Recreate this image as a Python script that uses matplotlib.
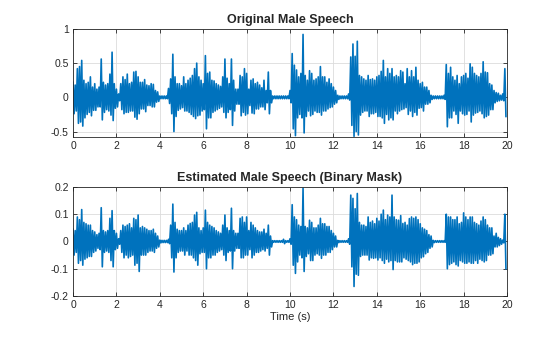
import numpy as np
import matplotlib
matplotlib.use('Agg')
import matplotlib.pyplot as plt

# ###########################################################################
# Envelope of the waveforms, every 0.1 s (t = 0 ... 19.9)
dt = 0.1

# Original male speech: upper / lower peaks
orig_up = [
    0.22, 0.18, 0.42, 0.45, 0.54, 0.25, 0.20, 0.22, 0.30, 0.15,
    0.20, 0.12, 0.15, 0.56, 0.22, 0.18, 0.20, 0.34, 0.66, 0.20,
    0.12, 0.05, 0.20, 0.30, 0.26, 0.34, 0.20, 0.22, 0.37, 0.38,
    0.30, 0.22, 0.22, 0.26, 0.18, 0.17, 0.20, 0.19, 0.10, 0.08,
    0.02, 0.02, 0.02, 0.02, 0.13, 0.27, 0.63, 0.30, 0.20, 0.20,
    0.17, 0.30, 0.20, 0.25, 0.28, 0.32, 0.42, 0.50, 0.30, 0.25,
    0.20, 0.61, 0.35, 0.37, 0.25, 0.24, 0.20, 0.18, 0.16, 0.30,
    0.56, 0.28, 0.20, 0.56, 0.25, 0.12, 0.12, 0.32, 0.30, 0.42,
    0.35, 0.12, 0.25, 0.27, 0.20, 0.22, 0.18, 0.14, 0.25, 0.10,
    0.37, 0.10, 0.02, 0.02, 0.02, 0.02, 0.02, 0.02, 0.02, 0.02,
    0.10, 0.64, 0.47, 0.40, 0.30, 0.35, 0.92, 0.32, 0.25, 0.39,
    0.35, 0.25, 0.27, 0.30, 0.45, 0.30, 0.30, 0.22, 0.27, 0.20,
    0.15, 0.10, 0.03, 0.02, 0.02, 0.02, 0.02, 0.05, 0.59, 0.78,
    0.60, 0.82, 0.32, 0.30, 0.27, 0.25, 0.32, 0.26, 0.27, 0.25,
    0.30, 0.32, 0.38, 0.54, 0.30, 0.42, 0.35, 0.42, 0.30, 0.32,
    0.30, 0.39, 0.37, 0.20, 0.42, 0.30, 0.39, 0.30, 0.44, 0.25,
    0.20, 0.22, 0.15, 0.15, 0.10, 0.03, 0.02, 0.02, 0.02, 0.02,
    0.02, 0.03, 0.48, 0.35, 0.44, 0.30, 0.25, 0.32, 0.20, 0.30,
    0.32, 0.35, 0.28, 0.49, 0.44, 0.35, 0.32, 0.30, 0.35, 0.52,
    0.37, 0.36, 0.20, 0.18, 0.10, 0.07, 0.06, 0.03, 0.05, 0.42,
]
orig_lo = [
    -0.24, -0.20, -0.38, -0.36, -0.42, -0.30, -0.25, -0.22, -0.27, -0.19,
    -0.19, -0.14, -0.14, -0.33, -0.22, -0.18, -0.20, -0.26, -0.34, -0.16,
    -0.14, -0.05, -0.18, -0.24, -0.22, -0.22, -0.20, -0.20, -0.29, -0.32,
    -0.24, -0.17, -0.17, -0.21, -0.12, -0.12, -0.14, -0.14, -0.07, -0.06,
    -0.02, -0.02, -0.02, -0.02, -0.09, -0.24, -0.50, -0.28, -0.19, -0.17,
    -0.15, -0.20, -0.20, -0.22, -0.25, -0.28, -0.31, -0.27, -0.26, -0.20,
    -0.18, -0.46, -0.30, -0.30, -0.22, -0.20, -0.18, -0.16, -0.14, -0.22,
    -0.30, -0.22, -0.18, -0.41, -0.20, -0.10, -0.10, -0.27, -0.22, -0.26,
    -0.24, -0.12, -0.23, -0.24, -0.17, -0.17, -0.14, -0.14, -0.18, -0.08,
    -0.24, -0.08, -0.02, -0.02, -0.02, -0.02, -0.02, -0.02, -0.02, -0.02,
    -0.08, -0.46, -0.56, -0.30, -0.25, -0.30, -0.52, -0.28, -0.20, -0.27,
    -0.25, -0.20, -0.22, -0.22, -0.26, -0.20, -0.20, -0.17, -0.15, -0.14,
    -0.10, -0.08, -0.03, -0.02, -0.02, -0.02, -0.02, -0.04, -0.41, -0.57,
    -0.50, -0.55, -0.26, -0.22, -0.20, -0.20, -0.28, -0.24, -0.24, -0.22,
    -0.28, -0.28, -0.30, -0.38, -0.25, -0.33, -0.30, -0.33, -0.20, -0.24,
    -0.20, -0.18, -0.17, -0.15, -0.25, -0.20, -0.28, -0.22, -0.26, -0.16,
    -0.15, -0.20, -0.10, -0.10, -0.08, -0.03, -0.02, -0.02, -0.02, -0.02,
    -0.02, -0.03, -0.43, -0.30, -0.30, -0.20, -0.25, -0.38, -0.20, -0.24,
    -0.26, -0.25, -0.20, -0.36, -0.26, -0.23, -0.22, -0.20, -0.24, -0.30,
    -0.28, -0.26, -0.18, -0.18, -0.08, -0.06, -0.05, -0.04, -0.05, -0.28,
]

# Estimated male speech (binary mask): upper / lower peaks
est_up = [
    0.045, 0.040, 0.090, 0.080, 0.117, 0.070, 0.065, 0.060, 0.060, 0.040,
    0.035, 0.025, 0.030, 0.124, 0.040, 0.035, 0.040, 0.085, 0.113, 0.040,
    0.030, 0.010, 0.040, 0.060, 0.055, 0.060, 0.065, 0.050, 0.085, 0.080,
    0.097, 0.050, 0.055, 0.050, 0.045, 0.040, 0.040, 0.045, 0.030, 0.020,
    0.005, 0.004, 0.004, 0.004, 0.008, 0.060, 0.137, 0.070, 0.045, 0.040,
    0.040, 0.050, 0.040, 0.060, 0.066, 0.070, 0.097, 0.107, 0.050, 0.040,
    0.050, 0.115, 0.070, 0.060, 0.055, 0.050, 0.040, 0.035, 0.030, 0.060,
    0.097, 0.050, 0.040, 0.122, 0.040, 0.030, 0.030, 0.085, 0.090, 0.070,
    0.090, 0.040, 0.070, 0.060, 0.050, 0.040, 0.035, 0.035, 0.045, 0.030,
    0.060, 0.020, 0.003, 0.003, 0.003, 0.003, 0.003, 0.008, 0.003, 0.003,
    0.010, 0.135, 0.090, 0.080, 0.060, 0.055, 0.195, 0.055, 0.050, 0.078,
    0.070, 0.050, 0.050, 0.060, 0.085, 0.065, 0.065, 0.055, 0.055, 0.040,
    0.030, 0.020, 0.004, 0.003, 0.003, 0.003, 0.003, 0.010, 0.170, 0.158,
    0.120, 0.176, 0.070, 0.060, 0.060, 0.055, 0.090, 0.070, 0.075, 0.065,
    0.085, 0.075, 0.100, 0.115, 0.080, 0.097, 0.090, 0.170, 0.090, 0.080,
    0.078, 0.095, 0.066, 0.070, 0.060, 0.084, 0.090, 0.085, 0.090, 0.080,
    0.065, 0.050, 0.045, 0.040, 0.025, 0.020, 0.004, 0.003, 0.003, 0.003,
    0.003, 0.003, 0.100, 0.090, 0.090, 0.080, 0.080, 0.090, 0.065, 0.070,
    0.105, 0.090, 0.080, 0.090, 0.090, 0.070, 0.065, 0.060, 0.075, 0.090,
    0.080, 0.060, 0.050, 0.050, 0.020, 0.030, 0.015, 0.010, 0.005, 0.100,
]
est_lo = [
    -0.050, -0.040, -0.080, -0.070, -0.087, -0.065, -0.060, -0.055, -0.055, -0.040,
    -0.035, -0.025, -0.030, -0.093, -0.040, -0.035, -0.040, -0.070, -0.093, -0.030,
    -0.025, -0.010, -0.040, -0.060, -0.050, -0.060, -0.055, -0.050, -0.087, -0.080,
    -0.110, -0.050, -0.050, -0.050, -0.040, -0.035, -0.035, -0.040, -0.025, -0.020,
    -0.005, -0.004, -0.004, -0.004, -0.008, -0.060, -0.112, -0.060, -0.040, -0.035,
    -0.035, -0.050, -0.035, -0.050, -0.050, -0.060, -0.070, -0.087, -0.045, -0.040,
    -0.040, -0.100, -0.060, -0.060, -0.050, -0.050, -0.040, -0.035, -0.030, -0.050,
    -0.070, -0.040, -0.035, -0.100, -0.035, -0.025, -0.025, -0.060, -0.060, -0.050,
    -0.050, -0.030, -0.060, -0.050, -0.040, -0.040, -0.035, -0.030, -0.035, -0.025,
    -0.050, -0.020, -0.003, -0.003, -0.003, -0.003, -0.003, -0.008, -0.003, -0.003,
    -0.010, -0.087, -0.117, -0.075, -0.050, -0.060, -0.110, -0.055, -0.045, -0.070,
    -0.070, -0.050, -0.045, -0.050, -0.062, -0.050, -0.050, -0.040, -0.040, -0.030,
    -0.020, -0.020, -0.004, -0.003, -0.003, -0.003, -0.003, -0.010, -0.093, -0.165,
    -0.120, -0.124, -0.055, -0.050, -0.050, -0.050, -0.068, -0.060, -0.062, -0.060,
    -0.068, -0.060, -0.070, -0.080, -0.065, -0.075, -0.070, -0.103, -0.070, -0.075,
    -0.075, -0.075, -0.060, -0.065, -0.070, -0.075, -0.085, -0.080, -0.080, -0.075,
    -0.060, -0.056, -0.045, -0.040, -0.025, -0.020, -0.004, -0.003, -0.003, -0.003,
    -0.003, -0.003, -0.100, -0.085, -0.080, -0.075, -0.085, -0.090, -0.070, -0.075,
    -0.080, -0.080, -0.075, -0.080, -0.080, -0.070, -0.080, -0.065, -0.070, -0.075,
    -0.070, -0.050, -0.050, -0.045, -0.020, -0.020, -0.015, -0.010, -0.005, -0.100,
]

titles = ['Original Male Speech', 'Estimated Male Speech (Binary Mask)']
ylims = [(-0.58, 1.0), (-0.2, 0.2)]
yticks = [[-0.5, 0, 0.5, 1], [-0.2, -0.1, 0, 0.1, 0.2]]
xticks = np.arange(0, 21, 2)


def zigzag(up, lo):
    # alternate between upper and lower peak inside each 0.1 s bin
    t0 = np.arange(len(up)) * dt
    tt = np.empty(2 * len(up))
    yy = np.empty(2 * len(up))
    tt[0::2] = t0
    tt[1::2] = t0 + dt / 2
    yy[0::2] = up
    yy[1::2] = lo
    return tt, yy


plt.rcParams['font.family'] = ['Liberation Sans', 'DejaVu Sans']
plt.rcParams['axes.unicode_minus'] = False

fig = plt.figure(figsize=(5.6, 3.37), dpi=100)
positions = [[0.1304, 0.5935, 0.775, 0.3205], [0.1304, 0.1217, 0.775, 0.3235]]
series = [(orig_up, orig_lo), (est_up, est_lo)]

for i in range(2):
    ax = fig.add_axes(positions[i])
    tt, yy = zigzag(*series[i])
    ax.plot(tt, yy, color='#0072BD', lw=1.2, solid_joinstyle='round')
    ax.set_xlim(0, 20)
    ax.set_ylim(*ylims[i])
    ax.set_xticks(xticks)
    ax.set_yticks(yticks[i])
    ax.set_yticklabels(['{:g}'.format(v) for v in yticks[i]])
    ax.grid(True, color='#dcdcdc', lw=0.6)
    ax.set_axisbelow(True)
    ax.tick_params(direction='in', length=3, width=0.6, labelsize=7.5,
                   top=True, right=True, colors='#262626', pad=3)
    for sp in ax.spines.values():
        sp.set_color('#262626')
        sp.set_linewidth(0.6)
    ax.set_title(titles[i], fontsize=9, fontweight='bold', color='#262626', pad=4)
    if i == 1:
        ax.set_xlabel('Time (s)', fontsize=8, color='#262626', labelpad=1)

fig.savefig('out.png', dpi=100, facecolor='white')
